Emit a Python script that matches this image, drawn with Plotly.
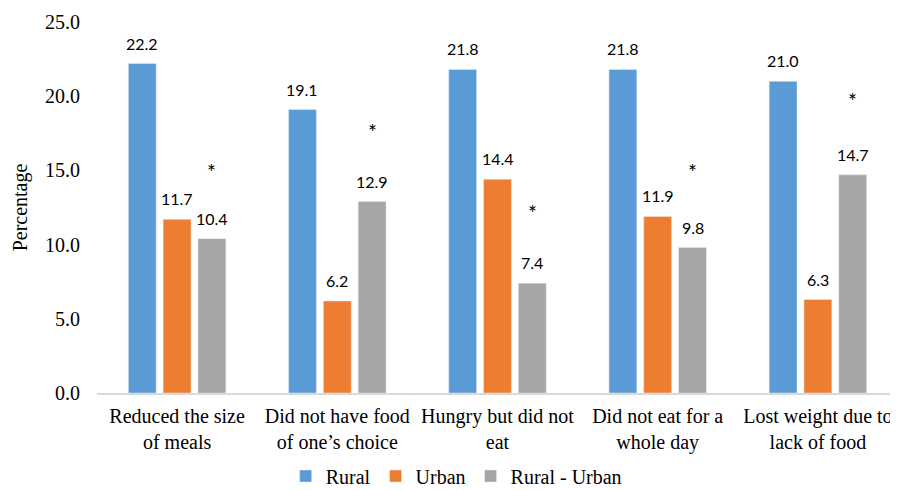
import plotly.graph_objects as go

categories = ["Reduced the size<br>of meals", "Did not have food<br>of one\u2019s choice",
              "Hungry but did not<br>eat", "Did not eat for a<br>whole day", "Lost weight due to<br>lack of food"]
rural = [22.2, 19.1, 21.8, 21.8, 21.0]
urban = [11.7, 6.2, 14.4, 11.9, 6.3]
diff = [10.4, 12.9, 7.4, 9.8, 14.7]
sig_marker_y = [15.2, 17.9, 12.4, 15.2, 20.0]
y_ticks = [0, 5, 10, 15, 20, 25]

num_family = "Lato, Liberation Sans, sans-serif"
serif = "Liberation Serif, Times New Roman, serif"

bargap = 0.348
slot = (1 - bargap) / 3

series = [("Rural", rural, "#5b9bd5"), ("Urban", urban, "#ed7d31"), ("Rural - Urban", diff, "#a5a5a5")]

fig = go.Figure()
annotations = []
for k, (name, vals, col) in enumerate(series):
    fig.add_trace(go.Bar(x=categories, y=vals, name=name, marker_color=col))
    off = (k - 1) * slot
    for i, v in enumerate(vals):
        annotations.append(dict(x=i + off, y=v, xref="x", yref="y", text=f"{v:.1f}", showarrow=False,
                                yanchor="bottom", yshift=9,
                                font=dict(family=num_family, size=16, color="#000")))

for i, v in enumerate(sig_marker_y):
    annotations.append(dict(x=i + slot, y=v, xref="x", yref="y", text="*", showarrow=False,
                            yanchor="middle", yshift=-4,
                            font=dict(family=num_family, size=21, color="#000")))

# page body adds an 8px margin, so the figure is 8px smaller than the window
fig.update_layout(
    width=890, height=482,
    margin=dict(l=89, r=0, t=14, b=97),
    plot_bgcolor="white", paper_bgcolor="white",
    barmode="group", bargap=bargap, bargroupgap=0.2,
    showlegend=True,
    annotations=annotations,
    legend=dict(orientation="h", xref="container", yref="container", x=0.312, xanchor="left",
                y=0.029, yanchor="middle",
                font=dict(family=serif, size=20, color="#000"), itemwidth=30,
                traceorder="normal"),
    xaxis=dict(showline=True, linecolor="#d9d9d9", linewidth=1.5, automargin=False,
               tickfont=dict(family=serif, size=20, color="#000"), ticklabelstandoff=4,
               ticks="", showgrid=False, range=[-0.5, 4.5]),
    yaxis=dict(range=[0, 25], tickvals=y_ticks, tickformat=".1f", showgrid=False, zeroline=False,
               automargin=False, showline=False, tickfont=dict(family=serif, size=20, color="#000"),
               ticklabelstandoff=16,
               title=dict(text="Percentage", font=dict(family=serif, size=20, color="#000"), standoff=12)),
)

fig.write_html("out.html")
